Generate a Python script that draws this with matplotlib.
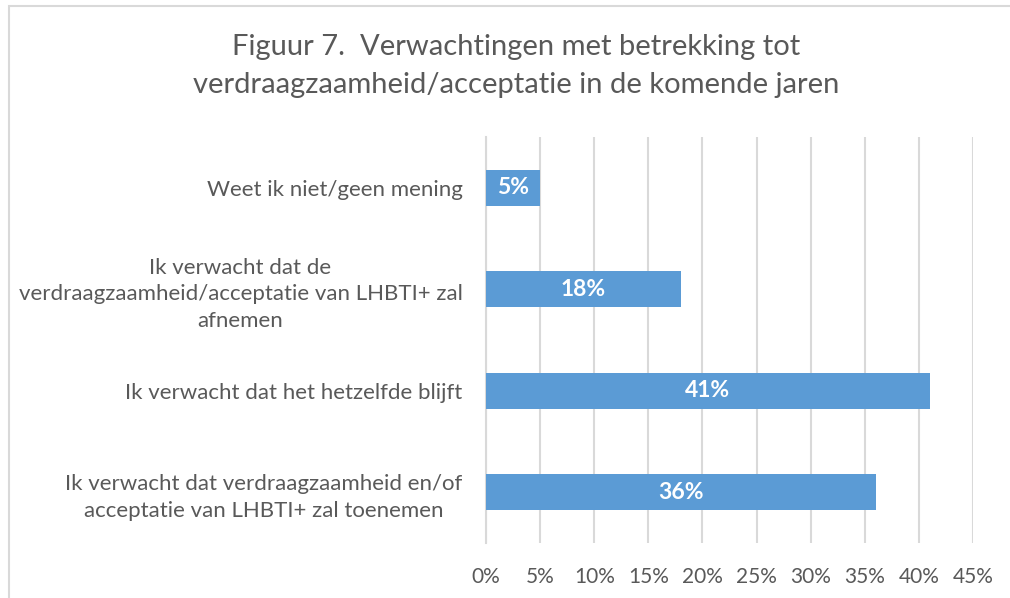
import matplotlib
matplotlib.use("Agg")
import matplotlib.pyplot as plt
from matplotlib.patches import Rectangle

categories = [
    "Ik verwacht dat verdraagzaamheid en/of\nacceptatie van LHBTI+ zal toenemen",
    "Ik verwacht dat het hetzelfde blijft",
    "Ik verwacht dat de\nverdraagzaamheid/acceptatie van LHBTI+ zal\nafnemen",
    "Weet ik niet/geen mening",
]
values = [36, 41, 18, 5]
bar_labels = ["36%", "41%", "18%", "5%"]
xticks = [0, 5, 10, 15, 20, 25, 30, 35, 40, 45]
xtick_labels = ["0%", "5%", "10%", "15%", "20%", "25%", "30%", "35%", "40%", "45%"]
title = "Figuur 7.  Verwachtingen met betrekking tot\nverdraagzaamheid/acceptatie in de komende jaren"

plt.rcParams['font.family'] = ['Lato', 'DejaVu Sans']
W, H = 1010, 598
fig = plt.figure(figsize=(W / 100, H / 100), dpi=100)
text_color = "#595959"
grid_color = "#D9D9D9"
bar_color = "#5B9BD5"

# chart border
fig.patches.append(Rectangle((9 / W, -0.1), 1.2, 1 - 6 / H + 0.1, transform=fig.transFigure,
                             fill=False, edgecolor="#D9D9D9", linewidth=1.5))

ax = fig.add_axes([486 / W, 1 - 543 / H, (973 - 486) / W, (543 - 137) / H])
y = list(range(len(categories)))
ax.barh(y, values, height=0.355, color=bar_color, zorder=3)
for yi, v, lab in zip(y, values, bar_labels):
    ax.text(v / 2, yi, lab, ha="center", va="center", color="white",
            fontsize=16.5, fontweight="bold", zorder=4)

ax.set_xlim(0, 45)
ax.set_ylim(-0.5, len(categories) - 0.5)
ax.set_xticks(xticks)
ax.set_xticklabels(xtick_labels)
ax.set_yticks(y)
ax.set_yticklabels(categories, multialignment="center", linespacing=1.4)
ax.tick_params(axis="x", length=0, pad=17, labelsize=15, labelcolor=text_color)
ax.tick_params(axis="y", length=0, pad=17, labelsize=16, labelcolor=text_color)
ax.grid(axis="x", color=grid_color, linewidth=1.5, zorder=0)
for s in ["top", "right", "bottom"]:
    ax.spines[s].set_visible(False)
ax.spines["left"].set_color(grid_color)
ax.spines["left"].set_linewidth(1.5)

fig.text(516 / W, 1 - 66 / H, title, ha="center", va="center", fontsize=21,
         color=text_color, linespacing=1.55)

fig.savefig("out.png", dpi=100)
